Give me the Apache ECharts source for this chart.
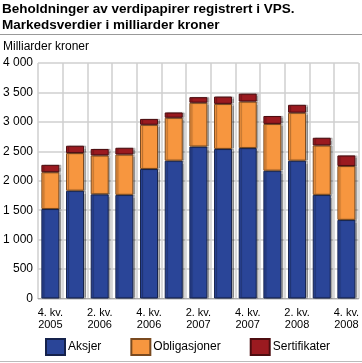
<!DOCTYPE html>
<html>
<head>
<meta charset="utf-8">
<script src="https://cdn.jsdelivr.net/npm/echarts@6/dist/echarts.min.js"></script>
<style>html,body{margin:0;padding:0;background:#fff}#c{width:362px;height:363px}</style>
</head>
<body>
<div id="c"></div>
<script>
const categories = ["4. kv. 2005","1. kv. 2006","2. kv. 2006","3. kv. 2006","4. kv. 2006","1. kv. 2007","2. kv. 2007","3. kv. 2007","4. kv. 2007","1. kv. 2008","2. kv. 2008","3. kv. 2008","4. kv. 2008"];
const aksjer = [1520,1830,1770,1760,2200,2340,2580,2540,2555,2170,2340,1760,1335];
const obligasjoner = [625,640,660,685,750,730,745,765,790,795,815,840,915];
const sertifikater = [125,125,110,115,100,90,95,125,135,135,135,130,180];
const yTicks = [0,500,1000,1500,2000,2500,3000,3500,4000];

const font = "Liberation Sans, Arial, sans-serif";
const chart = echarts.init(document.getElementById('c'));
function ser(name, data, color, border){
  return {name, type:'bar', stack:'t', data, barWidth:18,
    itemStyle:{color, borderColor:border, borderWidth:1, shadowColor:'rgba(0,0,0,0.3)', shadowOffsetX:2, shadowOffsetY:0, shadowBlur:1}};
}
chart.setOption({
  animation:false,
  textStyle:{fontFamily:font},
  title:{text:"Beholdninger av verdipapirer registrert i VPS.\nMarkedsverdier i milliarder kroner",
    left:2, top:1, padding:0, textStyle:{fontSize:13.5, fontWeight:'bold', color:'#000', lineHeight:16, fontFamily:font}},
  graphic:[
    {type:'line', shape:{x1:0,y1:34.5,x2:362,y2:34.5}, style:{stroke:'#999', lineWidth:1}},
    {type:'line', shape:{x1:0,y1:361.5,x2:362,y2:361.5}, style:{stroke:'#bbb', lineWidth:1}},
    {type:'text', left:3, top:41, style:{text:'Milliarder kroner', fontSize:12, fill:'#000', fontFamily:font}}
  ],
  legend:{left:40, top:333, itemWidth:19, itemHeight:16, itemGap:29, icon:'rect',
    textStyle:{fontSize:12, color:'#000', fontFamily:font, padding:[0,0,0,-2]},
    data:['Aksjer','Obligasjoner','Sertifikater']},
  grid:{left:36, right:2, top:63, bottom:64.5},
  xAxis:{type:'category', data:categories,
    axisLine:{show:true, lineStyle:{color:'#aaa'}}, axisTick:{show:false},
    splitLine:{show:true, interval:0, lineStyle:{color:'#cfcfcf', width:1.5}},
    axisLabel:{interval:1, fontSize:11, color:'#000', lineHeight:12, margin:8, fontFamily:font,
      formatter:v=>v.replace(/ (\d{4})$/,'\n$1')}},
  yAxis:{type:'value', min:yTicks[0], max:yTicks[yTicks.length-1], interval:500,
    axisLine:{show:false}, axisTick:{show:false},
    splitLine:{lineStyle:{color:'#cfcfcf', width:1.5}},
    axisLabel:{fontSize:12, color:'#000', margin:5, fontFamily:font,
      formatter:v=>String(v).replace(/\B(?=(\d{3})+(?!\d))/g,' ')}},
  series:[
    ser('Aksjer', aksjer, '#2a4598', '#15224c'),
    ser('Obligasjoner', obligasjoner, '#f7963f', '#7a4a1f'),
    ser('Sertifikater', sertifikater, '#9b1a20', '#4d0d10')
  ]
});
</script>
</body>
</html>
